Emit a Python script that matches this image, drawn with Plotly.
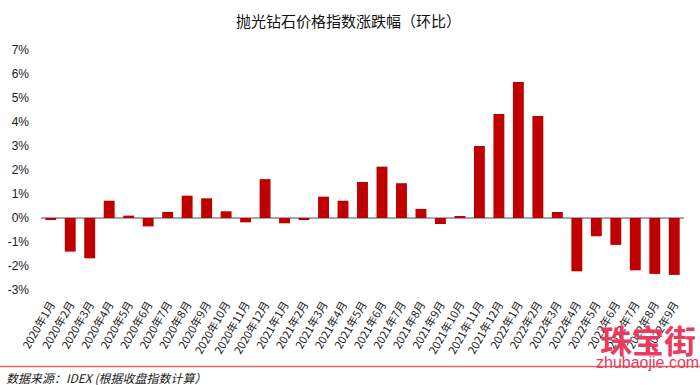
import plotly.graph_objects as go

W, H = 700, 385
L, R, T, B = 41, 16, 50, 95

categories = [f"{y}年{m}月" for y, ms in ((2020, range(1, 13)), (2021, range(1, 13)), (2022, range(1, 10))) for m in ms]
values_2020 = [-0.07, -1.40, -1.68, 0.72, 0.10, -0.35, 0.25, 0.93, 0.82, 0.28, -0.18, 1.62]
values_2021 = [-0.22, -0.08, 0.89, 0.72, 1.50, 2.14, 1.45, 0.38, -0.25, 0.06, 3.00, 4.33]
values_2022 = [5.67, 4.25, 0.25, -2.22, -0.76, -1.12, -2.18, -2.33, -2.37]
values = values_2020 + values_2021 + values_2022
y_ticks = [-3, -2, -1, 0, 1, 2, 3, 4, 5, 6, 7]
y_tick_labels = ["-3%", "-2%", "-1%", "0%", "1%", "2%", "3%", "4%", "5%", "6%", "7%"]

title_text = "抛光钻石价格指数涨跌幅（环比）"
source_text = "数据来源：IDEX (根据收盘指数计算）"

PW, PH = W - L - R, H - T - B
def px(x):
    return (x - L) / PW
def py(y):
    return (H - B - y) / PH

CJK = "Noto Sans CJK SC, Liberation Sans, sans-serif"

fig = go.Figure(go.Bar(
    x=categories, y=values,
    marker=dict(color="#C00000", line=dict(width=0)),
    width=0.56,
))

fig.update_layout(
    width=W, height=H,
    margin=dict(l=L, r=R, t=T, b=B, pad=0),
    paper_bgcolor="white", plot_bgcolor="white",
    showlegend=False,
    font=dict(family=CJK, color="#000000"),
    xaxis=dict(
        type="category", tickangle=-60, ticks="", showline=False, showgrid=False,
        tickfont=dict(size=11, family=CJK, color="#1a1a1a"),
        range=[-0.5, len(categories) - 0.5], automargin=False,
        ticklabelstandoff=5,
    ),
    yaxis=dict(
        range=[-3, 7], tickvals=y_ticks, ticktext=y_tick_labels, showgrid=False,
        showline=False, ticks="", zeroline=True, zerolinecolor="#A6A6A6", zerolinewidth=1.5,
        tickfont=dict(size=12, family="Liberation Sans, Noto Sans, sans-serif", color="#1a1a1a"),
        automargin=False, ticklabelstandoff=11,
    ),
    bargap=0.44,
)

fig.add_annotation(
    text=title_text, xref="paper", yref="paper", x=px(348), y=py(20),
    showarrow=False, xanchor="center", yanchor="middle",
    font=dict(size=15, family=CJK, color="#111111"),
)
fig.add_shape(
    type="line", xref="paper", yref="paper",
    x0=px(0), x1=px(700), y0=py(366.5), y1=py(366.5),
    line=dict(color="#D46A6A", width=1.5),
)
fig.add_annotation(
    text="<i>" + source_text + "</i>", xref="paper", yref="paper", x=px(4), y=py(377),
    showarrow=False, xanchor="left", yanchor="middle",
    font=dict(size=12, family=CJK, color="#1a1a1a"),
)
fig.add_annotation(
    text="<b>珠宝街</b>", xref="paper", yref="paper", x=px(648), y=py(339),
    showarrow=False, xanchor="center", yanchor="middle",
    font=dict(size=32, family=CJK, color="#EA3A5E"),
)
fig.add_annotation(
    text="zhubaojie.com", xref="paper", yref="paper", x=px(647), y=py(362),
    showarrow=False, xanchor="center", yanchor="middle",
    font=dict(size=16, family="Liberation Sans, sans-serif", color="#EA3A5E"),
)

fig.write_html(
    "out.html",
    config={"displayModeBar": False},
    post_script="document.body.style.margin='0';document.body.style.overflow='hidden';",
)
